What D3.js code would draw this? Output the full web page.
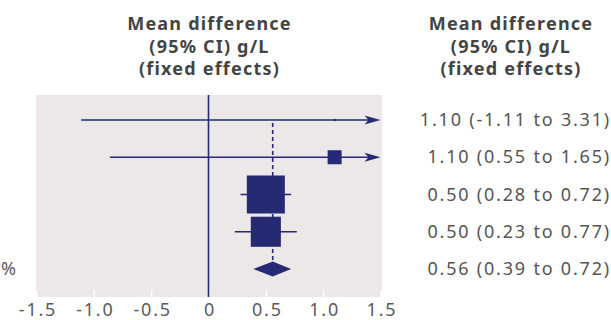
<!DOCTYPE html>
<html>
<head>
<meta charset="utf-8">
<script src="https://cdn.jsdelivr.net/npm/d3@7"></script>
<style>
  body { margin: 0; background: #fff; }
  svg { display: block; }
</style>
</head>
<body>
<div id="chart"></div>
<script>
// study rows (as drawn) and the pooled estimate
const estimates = [1.10, 1.10, 0.50, 0.50]
const lowerCI = [-1.11, -0.86, 0.28, 0.23]
const upperCI = [3.31, 1.65, 0.72, 0.77]
const weights = [0.2, 7.7, 56.6, 35.5]
const pooled = [0.56, 0.39, 0.72] // estimate, lower, upper
const rowLabels = [
  '1.10 (-1.11 to 3.31)',
  '1.10 (0.55 to 1.65)',
  '0.50 (0.28 to 0.72)',
  '0.50 (0.23 to 0.77)',
  '0.56 (0.39 to 0.72)',
]
const xTicks = [-1.5, -1.0, -0.5, 0, 0.5, 1.0, 1.5]
const xTickLabels = ['-1.5', '-1.0', '-0.5', '0', '0.5', '1.0', '1.5']
const headerLines = ['Mean difference', '(95% CI) g/L', '(fixed effects)']

const width = 611
const height = 320
const navy = '#262a74'
const textFont = "'Noto Sans', sans-serif"

const panel = { left: 36, right: 382, top: 95, bottom: 297 }

const svg = d3
  .select('#chart')
  .append('svg')
  .attr('width', width)
  .attr('height', height)

const xScale = d3.scaleLinear().domain([-1.5, 1.5]).range([36.5, 380.5])

// row centres, last one is the pooled diamond
const yScale = d3.scalePoint().domain(d3.range(5)).range([120, 269])

const boxSize = d3.scaleSqrt().domain([0, d3.max(weights)]).range([0, 38])

// panel background
svg
  .append('rect')
  .attr('x', panel.left)
  .attr('y', panel.top)
  .attr('width', panel.right - panel.left)
  .attr('height', panel.bottom - panel.top)
  .attr('fill', '#ebe8e7')

// x axis: white tick marks inside the panel, grey labels below
const xAxis = d3
  .axisBottom(xScale)
  .tickValues(xTicks)
  .tickSize(0)
  .tickPadding(0)
  .tickFormat((d, i) => xTickLabels[i])

const axisGroup = svg
  .append('g')
  .attr('transform', `translate(0, ${panel.bottom})`)
  .call(xAxis)
axisGroup.select('.domain').remove()
axisGroup
  .selectAll('.tick text')
  .attr('x', 1)
  .attr('y', 19)
  .attr('dy', 0)
  .attr('fill', '#5a5a5a')
  .attr('font-family', textFont)
  .attr('font-size', 18)
  .attr('letter-spacing', 1.8)
axisGroup
  .selectAll('.tick')
  .append('line')
  .attr('y1', 0)
  .attr('y2', -7)
  .attr('stroke', '#ffffff')
  .attr('stroke-width', 1.5)

// line of no effect
svg
  .append('line')
  .attr('x1', xScale(0))
  .attr('x2', xScale(0))
  .attr('y1', panel.top)
  .attr('y2', panel.bottom)
  .attr('stroke', navy)
  .attr('stroke-width', 1.6)

// dashed line at the pooled estimate
svg
  .append('line')
  .attr('x1', xScale(pooled[0]))
  .attr('x2', xScale(pooled[0]))
  .attr('y1', yScale(0) + 3)
  .attr('y2', yScale(4) - 6)
  .attr('stroke', navy)
  .attr('stroke-width', 1.6)
  .attr('stroke-dasharray', '4 3')

const [xMin, xMax] = xScale.domain()
const studies = estimates.map((d, i) => ({
  est: d,
  lo: lowerCI[i],
  hi: upperCI[i],
  w: weights[i],
  row: i,
}))

const studyGroup = svg.append('g')

// confidence interval lines (clipped to the axis range)
studyGroup
  .selectAll('line.ci')
  .data(studies)
  .join('line')
  .classed('ci', true)
  .attr('x1', (d) => xScale(Math.max(d.lo, xMin)))
  .attr('x2', (d) => (d.hi > xMax ? xScale(xMax) - 8 : xScale(d.hi)))
  .attr('y1', (d) => yScale(d.row))
  .attr('y2', (d) => yScale(d.row))
  .attr('stroke', navy)
  .attr('stroke-width', 1.6)

// arrows where the interval runs past the axis
studyGroup
  .selectAll('path.arrow')
  .data(studies.filter((d) => d.hi > xMax))
  .join('path')
  .classed('arrow', true)
  .attr('d', (d) => {
    const tip = xScale(xMax)
    const y = yScale(d.row)
    return `M${tip},${y} L${tip - 16},${y - 4.5} L${tip - 12},${y} L${tip - 16},${y + 4.5} Z`
  })
  .attr('fill', navy)

// weighted boxes
studyGroup
  .selectAll('rect.box')
  .data(studies)
  .join('rect')
  .classed('box', true)
  .attr('x', (d) => xScale(d.est) - boxSize(d.w) / 2)
  .attr('y', (d) => yScale(d.row) - boxSize(d.w) / 2)
  .attr('width', (d) => boxSize(d.w))
  .attr('height', (d) => boxSize(d.w))
  .attr('fill', navy)

// pooled diamond
const yd = yScale(4)
svg
  .append('path')
  .attr(
    'd',
    `M${xScale(pooled[1])},${yd} L${xScale(pooled[0])},${yd - 7.5} L${xScale(pooled[2])},${yd} L${xScale(pooled[0])},${yd + 7.5} Z`
  )
  .attr('fill', navy)

// cut-off text at the left edge
svg
  .append('text')
  .attr('x', 16)
  .attr('y', yd + 6)
  .attr('text-anchor', 'end')
  .attr('fill', '#5a5a5a')
  .attr('font-family', textFont)
  .attr('font-size', 18)
  .text('%')

// column headers
const headerX = [xScale(0) + 1, 511]
headerX.forEach((cx) => {
  svg
    .append('g')
    .selectAll('text')
    .data(headerLines)
    .join('text')
    .attr('x', cx)
    .attr('y', (d, i) => 30 + i * 22.5)
    .attr('text-anchor', 'middle')
    .attr('fill', '#444444')
    .attr('font-family', textFont)
    .attr('font-weight', 'bold')
    .attr('font-size', 18)
    .attr('letter-spacing', 1.2)
    .text((d) => d)
})

// estimate labels on the right
svg
  .append('g')
  .selectAll('text')
  .data(rowLabels)
  .join('text')
  .attr('x', 611)
  .attr('y', (d, i) => yScale(i) + 6)
  .attr('text-anchor', 'end')
  .attr('fill', '#555555')
  .attr('font-family', textFont)
  .attr('font-size', 18)
  .attr('letter-spacing', 1.8)
  .text((d) => d)
</script>
</body>
</html>
